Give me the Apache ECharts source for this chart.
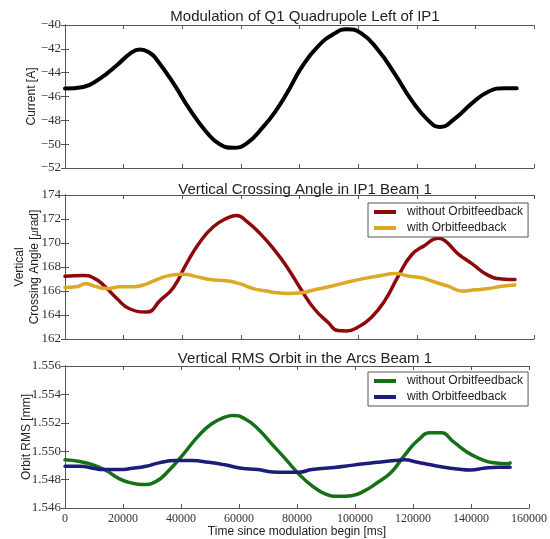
<!DOCTYPE html>
<html>
<head>
<meta charset="utf-8">
<script src="https://cdn.jsdelivr.net/npm/echarts@6/dist/echarts.min.js"></script>
<style>
  html, body { margin: 0; padding: 0; background: #fff; }
  #chart { width: 550px; height: 539px; }
</style>
</head>
<body>
<div id="chart"></div>
<script>
// Q1 quadrupole current during the modulation [A]
const currentT = [0, 6250, 11900, 17600, 22200, 25600, 29000, 31250, 37000, 42600, 48300, 52800, 57400, 61900, 67600, 71500,
  76000, 80600, 86300, 92000, 96000, 101100, 106800, 112500, 118200, 123900, 127900, 133000, 138700, 144400, 150100, 154100];
const currentV = [-45.33, -45.2, -44.5, -43.4, -42.4, -42.05, -42.35, -42.9, -44.9, -47.1, -49.0, -50.0, -50.3, -49.95, -48.55, -47.35,
  -45.6, -43.6, -41.8, -40.7, -40.36, -40.7, -42.1, -44.1, -46.3, -48.0, -48.55, -47.85, -46.6, -45.6, -45.3, -45.3];

// Vertical crossing angle in IP1, beam 1 [µrad]
const angleNoFbT = [0, 6250, 9700, 13100, 17600, 22200, 27900, 32400, 37000, 41500, 46100, 50600, 55100, 58600, 62000, 66500, 71500,
  76000, 80600, 85100, 89700, 93100, 96000, 100000, 104500, 109100, 113600, 118200, 122700, 127300, 129600, 134100, 138700, 144400, 149000, 153500];
const angleNoFbV = [167.23, 167.3, 167.1, 166.5, 165.4, 164.5, 164.25, 165.2, 166.3, 168.3, 170.1, 171.35, 172.05, 172.3, 171.8, 170.8, 169.4,
  167.9, 166.1, 164.5, 163.4, 162.7, 162.67, 163.0, 163.8, 165.2, 167.2, 169.0, 169.8, 170.4, 170.2, 169.1, 168.3, 167.3, 167.0, 166.95];
const angleFbT = [0, 4000, 6800, 10800, 14200, 18800, 23300, 27900, 31300, 35800, 40400, 44900, 49500, 55100, 59700, 64200, 68800, 71500,
  76000, 80600, 85100, 90800, 96500, 102200, 107900, 112500, 117000, 121600, 126100, 130700, 135300, 139800, 144400, 149000, 153500];
const angleFbV = [166.3, 166.35, 166.6, 166.35, 166.2, 166.35, 166.35, 166.6, 166.95, 167.3, 167.4, 167.2, 166.95, 166.85, 166.6, 166.2, 166.0, 165.88,
  165.8, 165.85, 166.1, 166.4, 166.75, 167.05, 167.3, 167.45, 167.25, 167.1, 166.75, 166.4, 166.0, 166.1, 166.2, 166.4, 166.5];

// Vertical RMS orbit in the arcs, beam 1 [mm]
const rmsNoFbT = [0, 5100, 9700, 14200, 18800, 23300, 26700, 31300, 35800, 40400, 46100, 50600, 55100, 58000, 62000, 66500, 71500,
  76000, 80600, 85100, 89700, 94200, 98800, 103400, 107900, 112500, 117000, 121600, 126100, 129600, 134100, 138700, 143200, 147800, 152900, 153500];
const rmsNoFbV = [1.54939, 1.54927, 1.54904, 1.54864, 1.54805, 1.54774, 1.54765, 1.54786, 1.54864, 1.54969, 1.5511, 1.55193, 1.5524, 1.55252, 1.55228, 1.55158, 1.55046,
  1.54946, 1.5484, 1.54758, 1.54699, 1.54682, 1.54687, 1.54722, 1.54781, 1.54852, 1.54969, 1.55075, 1.5513, 1.5513, 1.55064, 1.54993, 1.54946, 1.54918, 1.54911, 1.54918];
const rmsFbT = [0, 5100, 9700, 13100, 18800, 23300, 27900, 32400, 38100, 43800, 49500, 55100, 60800, 66500, 71500,
  76000, 80600, 85100, 90800, 96500, 102200, 107900, 113600, 117000, 121600, 126100, 130700, 135300, 139800, 144400, 149000, 153500];
const rmsFbV = [1.54894, 1.54894, 1.5488, 1.54871, 1.54871, 1.5488, 1.54894, 1.54918, 1.54934, 1.54934, 1.54922, 1.54904, 1.5488, 1.54871, 1.54854,
  1.54852, 1.54852, 1.54871, 1.54882, 1.54894, 1.5491, 1.54922, 1.54934, 1.54939, 1.54922, 1.54904, 1.54887, 1.54875, 1.54868, 1.5488, 1.54887, 1.54887];

const seriesNames = ['without Orbitfeedback', 'with Orbitfeedback'];
const panelTitles = ['Modulation of Q1 Quadrupole Left of IP1', 'Vertical Crossing Angle in IP1 Beam 1', 'Vertical RMS Orbit in the Arcs Beam 1'];
const xTickStep = 20000;
const xMax = 160000;

const zip = (t, v) => t.map((x, i) => [x, v[i]]);

const SANS = '"Liberation Sans", Arial, sans-serif';
const SERIF = '"Liberation Serif", "DejaVu Serif", serif';
const FRAME = '#555';

const grids = [
  { left: 65, right: 16, top: 25, height: 143 },
  { left: 65, right: 16, top: 195, height: 144 },
  { left: 65, right: 16, top: 366, height: 142 }
];

function xAxes(gridIndex, showLabels) {
  const common = {
    type: 'value', gridIndex, min: 0, max: xMax, interval: xTickStep,
    splitLine: { show: false },
    axisLine: { show: true, lineStyle: { color: FRAME, width: 1 } },
    axisTick: { show: true, inside: true, length: 4, lineStyle: { color: FRAME } }
  };
  return [
    Object.assign({}, common, {
      position: 'bottom',
      axisLabel: { show: showLabels, fontFamily: SERIF, fontSize: 12, color: '#333', margin: 5, formatter: v => String(v) },
      name: showLabels ? 'Time since modulation begin [ms]' : '',
      nameLocation: 'middle', nameGap: 17,
      nameTextStyle: { fontFamily: SANS, fontSize: 12, color: '#222' }
    }),
    Object.assign({}, common, { position: 'top', axisLabel: { show: false } })
  ];
}

function yAxes(gridIndex, min, max, step, fmt, name, nameGap, rich) {
  const common = {
    type: 'value', gridIndex, min, max, interval: step,
    splitLine: { show: false },
    axisLine: { show: true, lineStyle: { color: FRAME, width: 1 } },
    axisTick: { show: true, inside: true, length: 4, lineStyle: { color: FRAME } }
  };
  return [
    Object.assign({}, common, {
      position: 'left',
      axisLabel: { show: true, fontFamily: SERIF, fontSize: 13, color: '#333', margin: 4, formatter: fmt },
      name, nameLocation: 'middle', nameGap, nameRotate: 90, nameMoveOverlap: false,
      nameTextStyle: { fontFamily: SANS, fontSize: 12, color: '#222', lineHeight: 15, rich: rich || {} }
    }),
    Object.assign({}, common, { position: 'right', axisLabel: { show: false } })
  ];
}

const minusFmt = v => (v < 0 ? '\u2212' + Math.abs(v) : String(v));

const lineSeries = (name, data, color, width, xi, yi) => ({
  name, type: 'line', data, xAxisIndex: xi, yAxisIndex: yi,
  smooth: 0.5, showSymbol: false, symbol: 'none',
  lineStyle: { color, width, cap: 'round', join: 'round' },
  itemStyle: { color },
  animation: false
});

const legendBase = {
  orient: 'vertical', left: 368, icon: 'rect', itemWidth: 22, itemHeight: 4, itemGap: 4,
  padding: [3, 5, 3, 6], borderColor: FRAME, borderWidth: 1, backgroundColor: '#fff',
  textStyle: { fontFamily: SANS, fontSize: 12, color: '#222', padding: [0, 0, 0, 6] }
};

const option = {
  backgroundColor: '#fff',
  animation: false,
  title: panelTitles.map((text, i) => ({
    text, left: 300, textAlign: 'center', top: [4, 177, 346][i],
    textStyle: { fontFamily: SANS, fontSize: 15, fontWeight: 'normal', color: '#222' }
  })),
  grid: grids,
  xAxis: [].concat(xAxes(0, false), xAxes(1, false), xAxes(2, true)),
  yAxis: [].concat(
    yAxes(0, -52, -40, 2, minusFmt, 'Current [A]', 26),
    yAxes(1, 162, 174, 2, v => String(v), 'Vertical\nCrossing Angle [{i|\u03bc}rad]', 23,
      { i: { fontStyle: 'italic', fontFamily: SERIF, fontSize: 12, color: '#222' } }),
    yAxes(2, 1.546, 1.556, 0.002, v => v.toFixed(3), 'Orbit RMS [mm]', 31)
  ),
  legend: [
    Object.assign({}, legendBase, { top: 203, data: ['without Orbitfeedback', 'with Orbitfeedback'] }),
    Object.assign({}, legendBase, { top: 372, data: ['without Orbitfeedback ', 'with Orbitfeedback '],
      formatter: n => n.trim() })
  ],
  series: [
    lineSeries('current', zip(currentT, currentV), '#000000', 4, 0, 0),
    lineSeries(seriesNames[0], zip(angleNoFbT, angleNoFbV), '#8c0a0a', 3.5, 2, 2),
    lineSeries(seriesNames[1], zip(angleFbT, angleFbV), '#dca826', 3.5, 2, 2),
    lineSeries(seriesNames[0] + ' ', zip(rmsNoFbT, rmsNoFbV), '#167016', 3.5, 4, 4),
    lineSeries(seriesNames[1] + ' ', zip(rmsFbT, rmsFbV), '#1c1c7a', 3.5, 4, 4)
  ]
};

const chart = echarts.init(document.getElementById('chart'), null, { renderer: 'canvas' });
chart.setOption(option);
</script>
</body>
</html>
